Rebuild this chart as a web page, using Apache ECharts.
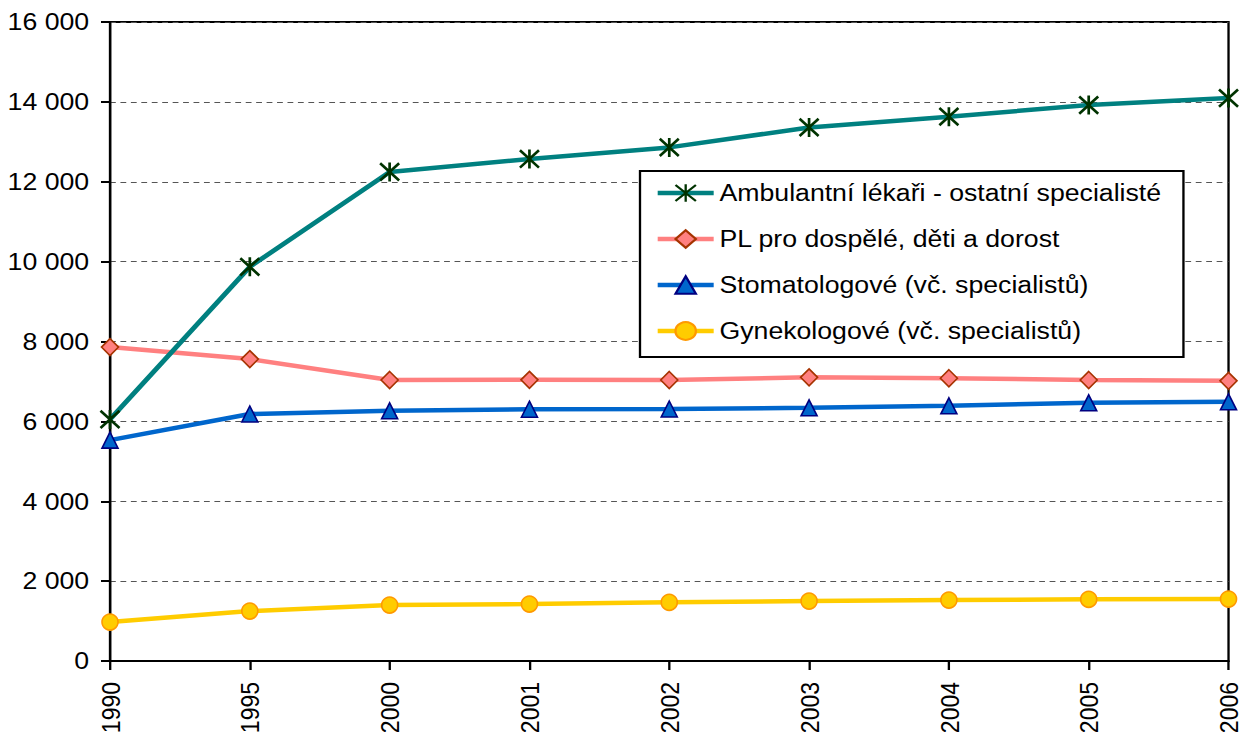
<!DOCTYPE html>
<html>
<head>
<meta charset="utf-8">
<script src="https://cdn.jsdelivr.net/npm/echarts@6/dist/echarts.min.js"></script>
<style>html,body{margin:0;padding:0;background:#fff;overflow:hidden}#c{height:743px;transform-origin:0 0}</style>
</head>
<body>
<div id="c"></div>
<script>
const years = ['1990','1995','2000','2001','2002','2003','2004','2005','2006'];
const ambulantni = [6050, 9870, 12245, 12570, 12860, 13360, 13630, 13920, 14095];
const plDospele = [7860, 7560, 7036, 7040, 7036, 7103, 7080, 7036, 7015];
const stomatologove = [5530, 6185, 6265, 6305, 6310, 6340, 6390, 6465, 6490];
const gynekologove = [975, 1250, 1400, 1425, 1470, 1500, 1525, 1545, 1550];
const seriesNames = ['Ambulantní lékaři - ostatní specialisté','PL pro dospělé, děti a dorost','Stomatologové (vč. specialistů)','Gynekologové (vč. specialistů)'];

const S = 1.16; // horizontal stretch of the reference rendering
const el = document.getElementById('c');
el.style.width = (1243 / S) + 'px';
el.style.transform = 'scaleX(' + S + ')';

const FONT = '"Liberation Sans", Arial, sans-serif';
const chart = echarts.init(el, null, {renderer:'svg'});
const fmt = v => { const s = String(Math.round(v)); return s.replace(/\B(?=(\d{3})+(?!\d))/g, ' '); };

chart.setOption({
  animation: false,
  backgroundColor: '#fff',
  textStyle: {fontFamily: FONT},
  grid: {left: 110 / S, right: 15 / S, top: 22, bottom: 82, show: true, borderColor: '#000', borderWidth: 2, backgroundColor: 'transparent'},
  legend: {
    left: 640 / S, top: 171, orient: 'vertical',
    backgroundColor: '#fff', borderColor: '#000', borderWidth: 2,
    padding: [9, 19, 13, 13], itemWidth: 56 / S, itemHeight: 22, itemGap: 20,
    lineStyle: {width: 4.5},
    textStyle: {fontFamily: FONT, fontSize: 23, color: '#000', lineHeight: 26},
    data: seriesNames, z: 10
  },
  xAxis: {
    type: 'category', data: years, boundaryGap: false,
    axisLine: {lineStyle: {color: '#000', width: 2}},
    axisTick: {show: true, inside: false, length: 9, lineStyle: {color: '#000', width: 2}, alignWithLabel: true},
    axisLabel: {rotate: 90, fontSize: 23, color: '#000', fontFamily: FONT, margin: 21},
    splitLine: {show: false}
  },
  yAxis: {
    type: 'value', min: 0, max: 16000, interval: 2000,
    axisLine: {show: true, lineStyle: {color: '#000', width: 2}},
    axisTick: {show: true, length: 9 / S, lineStyle: {color: '#000', width: 2}},
    axisLabel: {fontSize: 23, color: '#000', fontFamily: FONT, margin: 18, formatter: fmt},
    splitLine: {show: true, lineStyle: {color: '#555', width: 1, type: [5, 4]}}
  },
  series: [
    {
      name: seriesNames[0], type: 'line', data: ambulantni,
      symbol: 'path://M0,0L20,20M20,0L0,20M10,-1L10,21', symbolSize: [19 / S, 19],
      lineStyle: {color: '#008080', width: 4.5},
      itemStyle: {color: 'rgba(0,0,0,0)', borderColor: '#003300', borderWidth: 2.5},
      z: 4
    },
    {
      name: seriesNames[1], type: 'line', data: plDospele,
      symbol: 'diamond', symbolSize: [17 / S, 17],
      lineStyle: {color: '#FF8080', width: 4.5},
      itemStyle: {color: '#FF8080', borderColor: '#A63300', borderWidth: 1.5},
      z: 3
    },
    {
      name: seriesNames[2], type: 'line', data: stomatologove,
      symbol: 'triangle', symbolSize: [16 / S, 16],
      lineStyle: {color: '#0066CC', width: 4.5},
      itemStyle: {color: '#0066CC', borderColor: '#000080', borderWidth: 1.5},
      z: 3
    },
    {
      name: seriesNames[3], type: 'line', data: gynekologove,
      symbol: 'circle', symbolSize: [16 / S, 16],
      lineStyle: {color: '#FFCC00', width: 4.5},
      itemStyle: {color: '#FFCC00', borderColor: '#FF9900', borderWidth: 1.5},
      z: 3
    }
  ]
});
</script>
</body>
</html>
